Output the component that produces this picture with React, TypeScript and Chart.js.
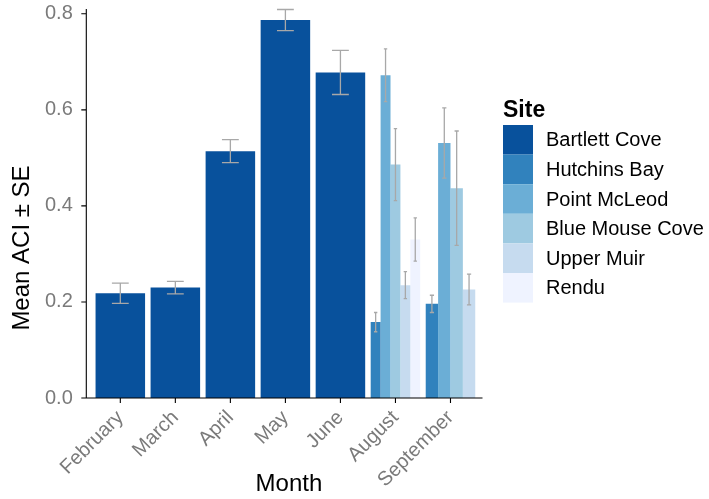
import React, { useEffect, useRef } from "react";
import { Chart, registerables } from "chart.js";

Chart.register(...registerables);

const months = ["February", "March", "April", "May", "June", "August", "September"];
const sites = ["Bartlett Cove", "Hutchins Bay", "Point McLeod", "Blue Mouse Cove", "Upper Muir", "Rendu"];
const siteColors = ["#08519C", "#3182BD", "#6BAED6", "#9ECAE1", "#C6DBEF", "#EFF3FF"];

const bartlettCove = [0.218, 0.23, 0.514, 0.787, 0.678, null, null];
const hutchinsBay = [null, null, null, null, null, 0.158, 0.196];
const pointMcLeod = [null, null, null, null, null, 0.672, 0.531];
const blueMouseCove = [null, null, null, null, null, 0.486, 0.437];
const upperMuir = [null, null, null, null, null, 0.235, 0.226];
const rendu = [null, null, null, null, null, 0.33, null];

const bartlettCoveSE = [0.021, 0.013, 0.024, 0.022, 0.046, null, null];
const hutchinsBaySE = [null, null, null, null, null, 0.02, 0.018];
const pointMcLeodSE = [null, null, null, null, null, 0.055, 0.073];
const blueMouseCoveSE = [null, null, null, null, null, 0.075, 0.119];
const upperMuirSE = [null, null, null, null, null, 0.028, 0.032];
const renduSE = [null, null, null, null, null, 0.045, null];

const yTicks = [0, 0.2, 0.4, 0.6, 0.8];

const seriesValues = [bartlettCove, hutchinsBay, pointMcLeod, blueMouseCove, upperMuir, rendu];
const seriesSE = [bartlettCoveSE, hutchinsBaySE, pointMcLeodSE, blueMouseCoveSE, upperMuirSE, renduSE];

const FONT = "'Liberation Sans', Arial, Helvetica, sans-serif";

const customPlugin = {
  id: "ggDecor",
  afterDatasetsDraw(chart: any) {
    const { ctx, scales } = chart;
    const y = scales.y;
    ctx.save();
    ctx.strokeStyle = "#A8A8A8";
    ctx.lineWidth = 1.3;
    chart.data.datasets.forEach((ds: any, i: number) => {
      const meta = chart.getDatasetMeta(i);
      const se = seriesSE[i];
      meta.data.forEach((el: any, j: number) => {
        const v = ds.data[j];
        if (v === null || v === undefined || se[j] === null) return;
        const e = se[j] as number;
        const yt = y.getPixelForValue(v + e);
        const yb = y.getPixelForValue(v - e);
        const half = el.width * 0.17;
        ctx.beginPath();
        ctx.moveTo(el.x, yt);
        ctx.lineTo(el.x, yb);
        ctx.moveTo(el.x - half, yt);
        ctx.lineTo(el.x + half, yt);
        ctx.moveTo(el.x - half, yb);
        ctx.lineTo(el.x + half, yb);
        ctx.stroke();
      });
    });
    ctx.restore();
  },
  afterDraw(chart: any) {
    const { ctx, chartArea, scales } = chart;
    const x = scales.x;
    const y = scales.y;
    const axX = chartArea.left - 6.5;
    const axY = chartArea.bottom;
    ctx.save();
    ctx.strokeStyle = "#000";
    ctx.lineWidth = 1.1;
    ctx.beginPath();
    ctx.moveTo(axX, chartArea.top);
    ctx.lineTo(axX, axY);
    ctx.lineTo(chartArea.right + 4.5, axY);
    yTicks.forEach((v) => {
      const py = y.getPixelForValue(v);
      ctx.moveTo(axX - 5, py);
      ctx.lineTo(axX, py);
    });
    months.forEach((_, i) => {
      const px = x.getPixelForValue(i);
      ctx.moveTo(px, axY);
      ctx.lineTo(px, axY + 5);
    });
    ctx.stroke();

    // axis titles
    ctx.fillStyle = "#000";
    ctx.font = `24px ${FONT}`;
    ctx.textAlign = "center";
    ctx.textBaseline = "middle";
    ctx.fillText("Month", (axX + chartArea.right + 4.5) / 2 + 4.5, 484);
    ctx.save();
    ctx.translate(22, 248);
    ctx.rotate(-Math.PI / 2);
    ctx.fillText("Mean ACI \u00B1 SE", 0, 0);
    ctx.restore();

    // legend
    ctx.textAlign = "left";
    ctx.textBaseline = "alphabetic";
    ctx.font = `bold 23px ${FONT}`;
    ctx.fillText("Site", 503, 117);
    const rowH = 29.6;
    ctx.font = `20px ${FONT}`;
    ctx.textBaseline = "middle";
    sites.forEach((s, i) => {
      const top = 125 + i * rowH;
      ctx.fillStyle = siteColors[i];
      ctx.fillRect(503, top, 30, rowH);
      ctx.fillStyle = "#000";
      ctx.fillText(s, 546, top + rowH / 2 + 1);
    });
    ctx.restore();
  },
};

export default function App() {
  const ref = useRef<HTMLCanvasElement>(null);
  useEffect(() => {
    if (!ref.current) return;
    const chart = new Chart(ref.current, {
      type: "bar",
      data: {
        labels: months,
        datasets: sites.map((s, i) => ({
          label: s,
          data: seriesValues[i],
          backgroundColor: siteColors[i],
          borderWidth: 0,
          categoryPercentage: 0.9,
          barPercentage: 1.0,
          skipNull: true,
        })),
      },
      options: {
        animation: false,
        responsive: false,
        maintainAspectRatio: false,
        layout: { padding: { top: 9, right: 231, left: 0, bottom: 0 } },
        plugins: { legend: { display: false }, tooltip: { enabled: false } },
        scales: {
          x: {
            offset: true,
            grid: { display: false, drawTicks: false },
            border: { display: false },
            ticks: {
              color: "#7A7A7A",
              font: { family: FONT, size: 20 },
              maxRotation: 45,
              minRotation: 45,
              padding: 8,
              autoSkip: false,
            },
            afterFit(scale: any) {
              scale.height = 101;
              scale.paddingLeft = 0;
              scale.paddingRight = 0;
            },
          },
          y: {
            min: 0,
            max: 0.81,
            grid: { display: false, drawTicks: false },
            border: { display: false },
            afterBuildTicks(scale: any) {
              scale.ticks = yTicks.map((v) => ({ value: v }));
            },
            ticks: {
              color: "#7A7A7A",
              font: { family: FONT, size: 20 },
              padding: 20,
              callback: (v: any) => Number(v).toFixed(1),
            },
            afterFit(scale: any) {
              scale.width = 92.8;
              scale.paddingTop = 0;
              scale.paddingBottom = 0;
            },
          },
        },
      },
      plugins: [customPlugin],
    });
    return () => chart.destroy();
  }, []);
  return (
    <div style={{ position: "absolute", left: 0, top: 0, width: 709, height: 499, background: "#fff" }}>
      <canvas ref={ref} width={709} height={499} />
    </div>
  );
}
